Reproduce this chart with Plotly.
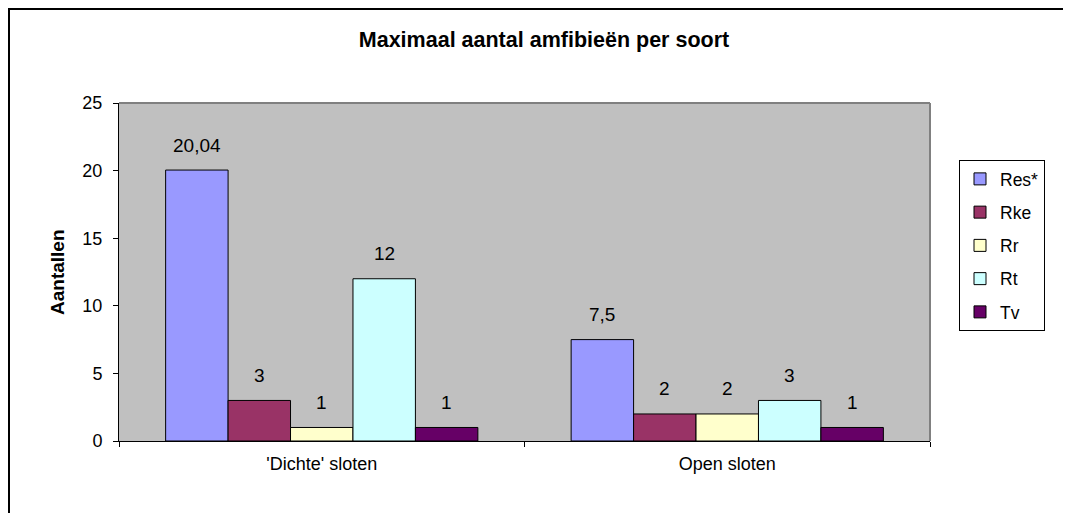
import plotly.graph_objects as go

categories = ["'Dichte' sloten", "Open sloten"]
series = ["Res*", "Rke", "Rr", "Rt", "Tv"]
values = {
    "Res*": [20.04, 7.5],
    "Rke": [3, 2],
    "Rr": [1, 2],
    "Rt": [12, 3],
    "Tv": [1, 1],
}
colors = {
    "Res*": "#9999FF",
    "Rke": "#993366",
    "Rr": "#FFFFCC",
    "Rt": "#CCFFFF",
    "Tv": "#660066",
}
title_text = "Maximaal aantal amfibieën per soort"
y_title = "Aantallen"


def fmt(v):
    return ("%g" % v).replace(".", ",")


FONT = "Arial, Liberation Sans, sans-serif"
BARGAP = 0.23

fig = go.Figure()
for s in series:
    fig.add_trace(go.Bar(
        name=s, x=categories, y=values[s],
        marker=dict(color=colors[s], line=dict(color="black", width=1)),
        legendgroup=s,
    ))

# data labels as annotations above each bar (positions derived from data + bar layout)
n = len(series)
bw = (1 - BARGAP) / n
annotations = []
for j, s in enumerate(series):
    for ci, v in enumerate(values[s]):
        annotations.append(dict(
            x=ci + (j - (n - 1) / 2) * bw, y=v, xref="x", yref="y",
            text=fmt(v), showarrow=False, xanchor="center", yanchor="middle",
            yshift=25, font=dict(family=FONT, size=19, color="black"),
        ))

W, H = 1071, 513
# page body adds 8px offset; plot area in figure coords
L, T = 111, 95
RIGHT, BOTTOM = 922, 433
R, B = W - RIGHT, H - BOTTOM
pw, ph = RIGHT - L, BOTTOM - T


def px2x(p):
    return (p - L) / pw


def px2y(p):
    return (BOTTOM - p) / ph


annotations.append(dict(
    text="<b>" + y_title + "</b>", xref="paper", yref="paper",
    x=px2x(49), y=0.5, textangle=-90, showarrow=False,
    xanchor="center", yanchor="middle", font=dict(family=FONT, size=19)))

fig.update_layout(
    width=W, height=H,
    margin=dict(l=L, r=R, t=T, b=B, autoexpand=False),
    paper_bgcolor="white", plot_bgcolor="#C0C0C0",
    barmode="group", bargap=BARGAP, bargroupgap=0,
    font=dict(family=FONT, size=18, color="black"),
    title=dict(text="<b>" + title_text + "</b>",
               x=536 / W, xanchor="center", y=1 - 31 / H, yanchor="middle",
               font=dict(size=21.5)),
    showlegend=True,
    legend=dict(x=px2x(951), xanchor="left", y=px2y(152), yanchor="top",
                bordercolor="black", borderwidth=1, bgcolor="white",
                tracegroupgap=7.5, itemwidth=30,
                font=dict(size=17.5)),
    xaxis=dict(showline=True, linecolor="black", linewidth=1,
               ticks="outside", tickson="boundaries", ticklen=5,
               tickcolor="black", showgrid=False, ticklabelstandoff=6),
    yaxis=dict(range=[0, 25], dtick=5, showline=True, linecolor="black",
               linewidth=1, ticks="outside", ticklen=5, tickcolor="black",
               showgrid=False, zeroline=False, ticklabelstandoff=7),
    shapes=[
        dict(type="rect", xref="paper", yref="paper",
             x0=px2x(1), x1=px2x(W + 20), y0=px2y(H + 20), y1=px2y(1),
             line=dict(color="black", width=2), fillcolor="rgba(0,0,0,0)",
             layer="below"),
        dict(type="line", xref="paper", yref="paper", x0=0, x1=1, y0=1, y1=1,
             line=dict(color="#808080", width=2)),
        dict(type="line", xref="paper", yref="paper", x0=1, x1=1, y0=0, y1=1,
             line=dict(color="#808080", width=2)),
    ],
    annotations=annotations,
)

fig.write_html("out.html")
